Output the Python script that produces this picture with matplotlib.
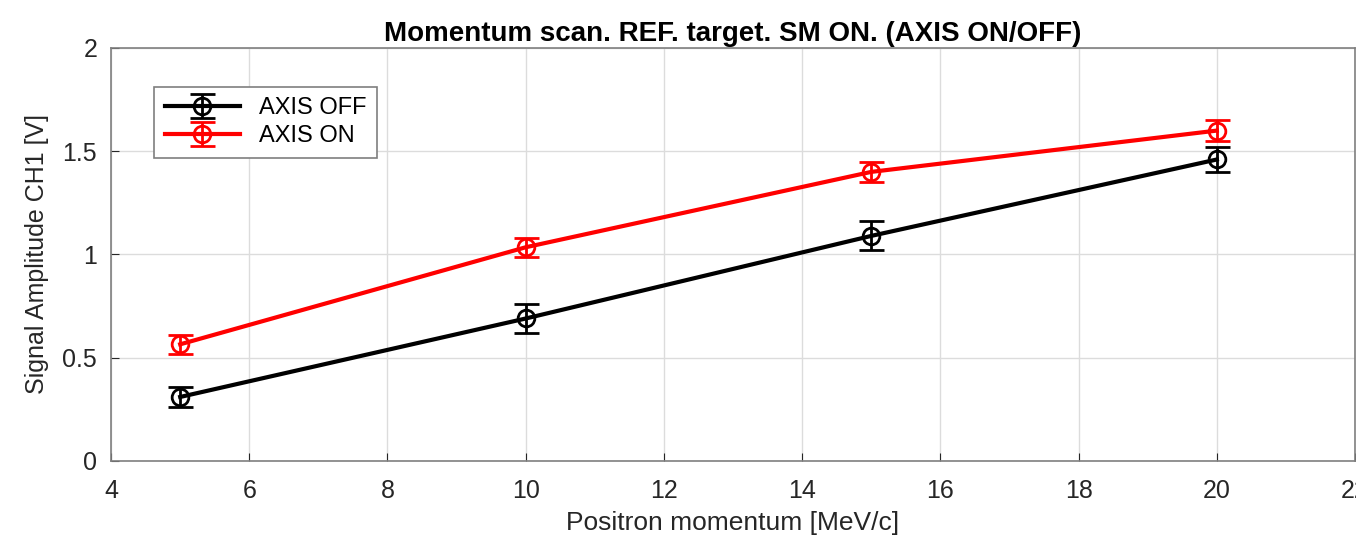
import matplotlib.pyplot as plt
import matplotlib as mpl

momentum = [5, 10, 15, 20]
amp_off = [0.31, 0.69, 1.09, 1.46]
err_off = [0.05, 0.07, 0.07, 0.06]
amp_on = [0.565, 1.035, 1.40, 1.60]
err_on = [0.045, 0.045, 0.05, 0.05]

mpl.rcParams.update({
    "font.family": ["Liberation Sans", "DejaVu Sans"],
    "font.size": 18,
})
AX = "#262626"

fig = plt.figure(figsize=(13.56, 5.44), dpi=100)
ax = fig.add_axes([0.0819, 0.1526, 0.9174, 0.7592])

ax.errorbar(momentum, amp_off, yerr=err_off, color="black", lw=3, marker="o",
            ms=12, mfc="none", mew=2, capsize=9, elinewidth=2, capthick=2,
            label="AXIS OFF")
ax.errorbar(momentum, amp_on, yerr=err_on, color="red", lw=3, marker="o",
            ms=12, mfc="none", mew=2, capsize=9, elinewidth=2, capthick=2,
            label="AXIS ON")

ax.set_xlim(4, 22)
ax.set_ylim(0, 2)
ax.set_xticks(range(4, 23, 2))
ax.set_yticks([0, 0.5, 1, 1.5, 2])
ax.set_yticklabels(["0", "0.5", "1", "1.5", "2"])
ax.grid(True, color="#dcdcdc", lw=1)
ax.set_axisbelow(True)
ax.tick_params(direction="in", length=6, colors=AX, labelsize=18)
ax.tick_params(axis="x", pad=13)
ax.tick_params(axis="y", pad=10)
for s in ax.spines.values():
    s.set_color("#7f7f7f")
    s.set_linewidth(1.2)

ax.set_title("Momentum scan. REF. target. SM ON. (AXIS ON/OFF)",
             fontsize=20, fontweight="bold", pad=5)
ax.set_xlabel("Positron momentum [MeV/c]", fontsize=19, color=AX, labelpad=6)
ax.set_ylabel("Signal Amplitude CH1 [V]", fontsize=18, color=AX, labelpad=10)

leg = ax.legend(loc="upper left", bbox_to_anchor=(0.025, 0.935), fontsize=17,
                fancybox=False, edgecolor="#7f7f7f", framealpha=1,
                handlelength=3.2, borderpad=0.45, labelspacing=0.25)
leg.get_frame().set_linewidth(1.2)

fig.savefig("out.png", dpi=100, facecolor="white")
